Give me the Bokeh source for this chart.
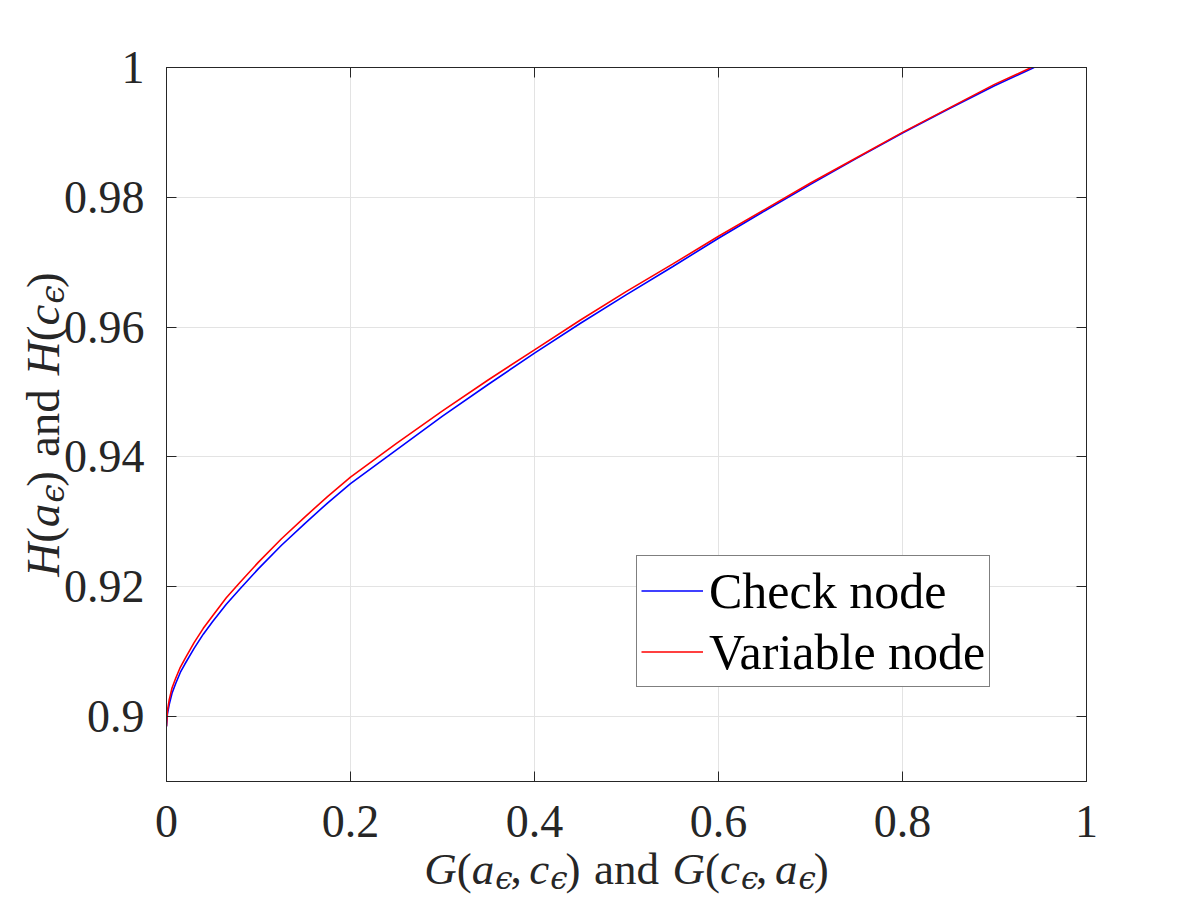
import math
from bokeh.plotting import figure
from bokeh.models import FixedTicker, LinearAxis, Range1d, Legend, LegendItem, Label
from bokeh.embed import file_html
from bokeh.resources import INLINE

# ---------------- data ----------------
x_check = [0, 0.001, 0.003, 0.006, 0.01, 0.015, 0.02, 0.03, 0.04, 0.05, 0.065, 0.08, 0.1,
           0.125, 0.15, 0.175, 0.2, 0.25, 0.3, 0.35, 0.4, 0.45, 0.5, 0.55, 0.6, 0.65,
           0.7, 0.75, 0.8, 0.85, 0.9, 0.943]
y_check = [0.8985, 0.9004, 0.9019, 0.9036, 0.9051, 0.9068, 0.9081, 0.9105, 0.9127, 0.9146,
           0.9173, 0.9197, 0.9228, 0.9264, 0.9297, 0.9329, 0.9359, 0.9411, 0.9463, 0.9512,
           0.9560, 0.9606, 0.9650, 0.9693, 0.9737, 0.9779, 0.9820, 0.9860, 0.9899, 0.9936,
           0.9972, 1.0]
x_var = [0, 0.001, 0.003, 0.006, 0.01, 0.015, 0.02, 0.03, 0.04, 0.05, 0.065, 0.08, 0.1,
         0.125, 0.15, 0.175, 0.2, 0.25, 0.3, 0.35, 0.4, 0.45, 0.5, 0.55, 0.6, 0.65,
         0.7, 0.75, 0.8, 0.85, 0.9, 0.940]
y_var = [0.8985, 0.9009, 0.9026, 0.9044, 0.9059, 0.9076, 0.9089, 0.9114, 0.9136, 0.9155,
         0.9183, 0.9207, 0.9238, 0.9274, 0.9307, 0.9339, 0.9369, 0.9421, 0.9471, 0.9519,
         0.9565, 0.9611, 0.9655, 0.9697, 0.9740, 0.9781, 0.9822, 0.9861, 0.9900, 0.9937,
         0.9974, 1.0]
series_names = ["Check node", "Variable node"]
series_colors = ["#0000ff", "#ff0000"]

x_ticks = [0, 0.2, 0.4, 0.6, 0.8, 1.0]
x_tick_labels = ["0", "0.2", "0.4", "0.6", "0.8", "1"]
y_ticks = [0.9, 0.92, 0.94, 0.96, 0.98, 1.0]
y_tick_labels = ["0.9", "0.92", "0.94", "0.96", "0.98", "1"]

# axis titles, split into pieces: (text, kind) with kind it / rm / sub / sp (gap in em)
EPS = "\u03f5"
x_label_parts = [("G", "it"), ("(", "rm"), ("a", "it"), (EPS, "sub"), (",", "rm"), (0.17, "sp"),
                 ("c", "it"), (EPS, "sub"), (")", "rm"), (0.3, "sp"), ("and", "rm"), (0.3, "sp"),
                 ("G", "it"), ("(", "rm"), ("c", "it"), (EPS, "sub"), (",", "rm"), (0.17, "sp"),
                 ("a", "it"), (EPS, "sub"), (")", "rm")]
y_label_parts = [("H", "it"), ("(", "rm"), ("a", "it"), (EPS, "sub"), (")", "rm"), (0.3, "sp"),
                 ("and", "rm"), (0.3, "sp"), ("H", "it"), ("(", "rm"), ("c", "it"), (EPS, "sub"),
                 (")", "rm")]

TXT = "#262626"
FONT = "Liberation Serif"
W, H = 1200, 900

# ---------------- main plot ----------------
p = figure(width=W, height=H, output_backend="svg", toolbar_location=None,
           x_range=Range1d(0, 1), y_range=Range1d(0.89, 1.0),
           min_border_left=166, min_border_right=114, min_border_top=67, min_border_bottom=119,
           background_fill_color="white", border_fill_color="white")
p.outline_line_color = TXT
p.outline_line_width = 1

grid_color = "#e3e3e3"
p.xgrid.ticker = FixedTicker(ticks=x_ticks)
p.ygrid.ticker = FixedTicker(ticks=y_ticks)
for g in (p.xgrid, p.ygrid):
    g.grid_line_color = grid_color
    g.grid_line_width = 1


def style_axis(ax, ticks, labels, standoff, show_labels=True):
    ax.ticker = FixedTicker(ticks=ticks)
    ax.major_label_overrides = {t: l for t, l in zip(ticks, labels)}
    ax.axis_line_color = TXT
    ax.major_tick_line_color = TXT
    ax.major_tick_in = 10
    ax.major_tick_out = 0
    ax.minor_tick_line_color = None
    ax.major_label_text_font = FONT
    ax.major_label_text_font_size = "46px"
    ax.major_label_standoff = standoff
    ax.major_label_text_color = TXT if show_labels else None


style_axis(p.xaxis[0], x_ticks, x_tick_labels, 24)
style_axis(p.yaxis[0], y_ticks, y_tick_labels, 22)
top_ax = LinearAxis()
right_ax = LinearAxis()
style_axis(top_ax, x_ticks, x_tick_labels, 0, show_labels=False)
style_axis(right_ax, y_ticks, y_tick_labels, 0, show_labels=False)
p.add_layout(top_ax, "above")
p.add_layout(right_ax, "right")

r_check = p.line(x_check, y_check, line_color=series_colors[0], line_width=1.6)
r_var = p.line(x_var, y_var, line_color=series_colors[1], line_width=1.6)

legend = Legend(items=[LegendItem(label=series_names[0], renderers=[r_check]),
                       LegendItem(label=series_names[1], renderers=[r_var])],
                location=(470, 94), orientation="vertical")
legend.label_text_font = FONT
legend.label_text_font_size = "50px"
legend.label_text_color = "black"
legend.border_line_color = "black"
legend.border_line_width = 1
legend.background_fill_color = "white"
legend.background_fill_alpha = 1
legend.glyph_width = 62
legend.glyph_height = 61
legend.label_height = 61
legend.label_standoff = 6
legend.padding = 4
legend.spacing = 0
legend.margin = 0
p.add_layout(legend)

# ---------------- transparent overlay carrying the typeset axis titles ----------------
# (annotations inside the main plot are clipped to its frame, so the titles live on
#  a transparent page-sized canvas laid exactly over it; its units are pixels)
lab = figure(width=W, height=H, output_backend="svg", toolbar_location=None,
             x_range=Range1d(0, W), y_range=Range1d(0, H),
             x_axis_type=None, y_axis_type=None, min_border=0,
             background_fill_color=None, border_fill_color=None, outline_line_color=None)
lab.styles = {"position": "absolute", "left": "0px", "top": "0px", "pointer-events": "none"}

RM_W = {"(": 0.333, ")": 0.333, ",": 0.25, " ": 0.25, "a": 0.444, "n": 0.5, "d": 0.5}
IT_W = {"G": 0.722, "H": 0.722, "a": 0.5, "c": 0.444}
EPS_W = 0.45


def layout_parts(parts, size):
    sub = size * 0.7
    out = []
    pos = 0.0
    for txt, kind in parts:
        if kind == "sp":
            pos += txt * size
            continue
        if kind == "rm":
            w = sum(RM_W.get(ch, 0.5) for ch in txt) * size
            out.append((txt, pos, "normal", size, 0.0, FONT))
        elif kind == "it":
            w = sum(IT_W.get(ch, 0.5) for ch in txt) * size
            out.append((txt, pos, "italic", size, 0.0, FONT))
        else:
            w = EPS_W * sub + 2
            out.append((txt, pos + 1, "italic", sub, size * 0.22, "DejaVu Serif"))
        pos += w
    return out, pos


frame_cx = 166 + (1086 - 166) / 2
frame_cy = H - (67 + (781 - 67) / 2)

# x title: centred under the frame, baseline at 868 px from the top
XSIZE = 45
parts, total = layout_parts(x_label_parts, XSIZE)
x0 = frame_cx - total / 2
for txt, pos, style, size, drop, font in parts:
    lab.add_layout(Label(x=x0 + pos, y=(H - 868) - drop, text=txt, text_font=font,
                         text_font_style=style, text_font_size=f"{size:.0f}px",
                         text_color=TXT, text_align="left", text_baseline="alphabetic"))

# y title: rotated, centred beside the frame
YSIZE = 47
parts, total = layout_parts(y_label_parts, YSIZE)
y0 = frame_cy - total / 2
for txt, pos, style, size, drop, font in parts:
    lab.add_layout(Label(x=42 + drop, y=y0 + pos, text=txt, text_font=font,
                         text_font_style=style, text_font_size=f"{size:.0f}px",
                         text_color=TXT, angle=math.pi / 2,
                         text_align="left", text_baseline="alphabetic"))

open("out.html", "w").write(file_html([p, lab], INLINE))
